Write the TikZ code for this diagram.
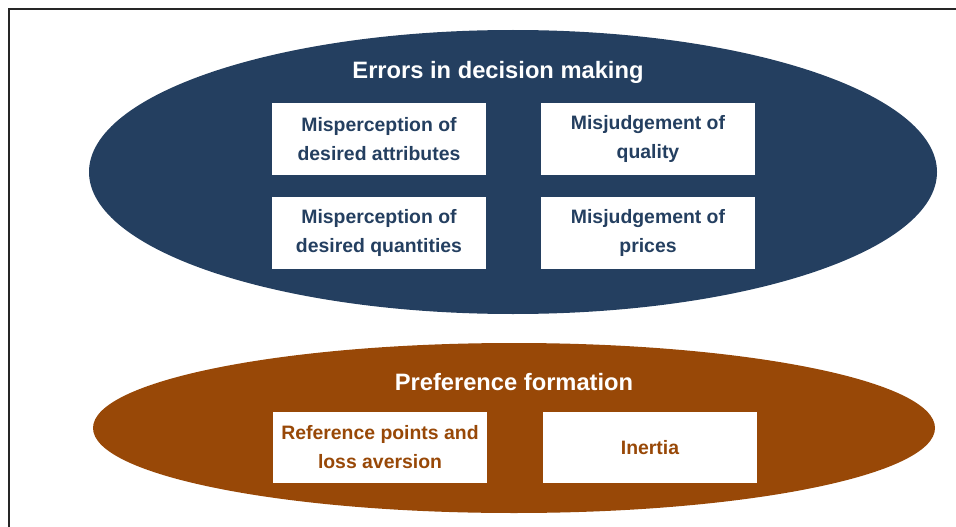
\documentclass[tikz,border=0pt]{standalone}
\usepackage{fontspec}
\setmainfont{Liberation Sans}
\usetikzlibrary{shapes.geometric}
\definecolor{errblue}{HTML}{243F60}
\definecolor{prefbrown}{HTML}{984807}

\begin{document}
\begin{tikzpicture}[x=1pt, y=-1pt]
	\useasboundingbox (0, 0) rectangle (956, 527);
	\draw [line width=2.4pt, black!85] (9, 527) -- (9, 9) -- (956, 9);
	\begin{scope}
		\tikzstyle{every node}=[align=center, inner sep=0pt]
		\tikzstyle{oval}=[ellipse, minimum width=848pt, minimum height=284pt]
		\tikzstyle{box}=[fill=white, minimum width=214pt, minimum height=72pt, font=\fontsize{19.4}{29}\selectfont\bfseries]
		\tikzstyle{head}=[text=white, font=\fontsize{23.7}{28}\selectfont\bfseries]

		% errors in decision making
		\node [oval, fill=errblue] (errors) at (513, 172) {};
		\node [head] (errtitle) at (498, 72) {Errors in decision making};
		\node [box, text=errblue] (attr) at (379, 139) {Misperception of\\desired attributes};
		\node [box, text=errblue] (qual) at (648, 139) {Misjudgement of\\quality};
		\node [box, text=errblue] (quant) at (379, 232.5) {Misperception of\\desired quantities};
		\node [box, text=errblue] (price) at (648, 232.5) {Misjudgement of\\prices};

		% preference formation
		\node [oval, fill=prefbrown, minimum width=842pt, minimum height=170pt] (pref) at (514, 428) {};
		\node [head] (preftitle) at (514, 382) {Preference formation};
		\node [box, text=prefbrown, minimum height=71pt] (refpt) at (380, 447.5) {Reference points and\\loss aversion};
		\node [box, text=prefbrown, minimum height=71pt] (inertia) at (650, 447.5) {Inertia};
	\end{scope}
\end{tikzpicture}
\end{document}
